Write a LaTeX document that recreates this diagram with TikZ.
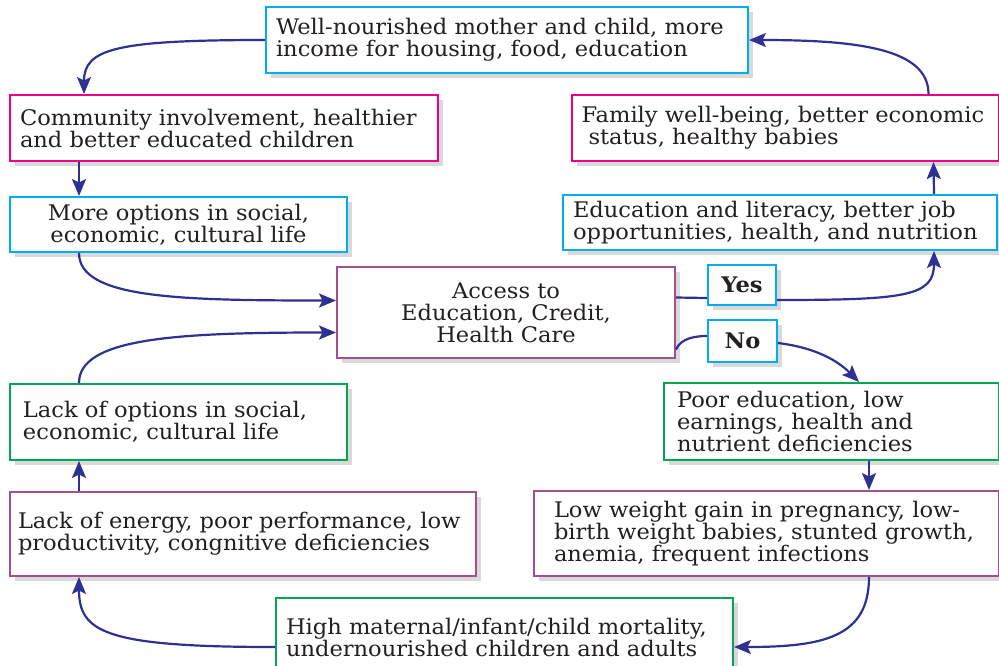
\documentclass[tikz,border=0pt]{standalone}
\usepackage{fontspec}
\setmainfont{DejaVu Serif}[FakeStretch=1.05]
\usetikzlibrary{arrows.meta,shadows}

\definecolor{boxcyan}{RGB}{0,174,239}
\definecolor{boxmagenta}{RGB}{236,0,140}
\definecolor{boxpurple}{RGB}{166,78,148}
\definecolor{boxgreen}{RGB}{0,166,81}
\definecolor{arrnavy}{RGB}{46,49,146}
\definecolor{textgrey}{RGB}{35,31,32}

\begin{document}
\begin{tikzpicture}[x=1pt, y=-1pt,
  box/.style={draw, line width=2pt, fill=white, text=textgrey, align=left, inner xsep=10pt, inner ysep=0pt,
    font=\fontsize{21.5pt}{22pt}\selectfont,
    drop shadow={shadow xshift=5pt, shadow yshift=-5pt, fill=black!15, opacity=1}},
  pile/.style={line width=2.2pt, draw=arrnavy, -{Stealth[length=17pt,width=14pt,inset=3.5pt]}},
  link/.style={line width=2.2pt, draw=arrnavy}]

	\useasboundingbox (0,0) rectangle (999,665);

	% Boxes
	\node[box, draw=boxcyan, text width=462pt, minimum height=66pt] (wellnour) at (507,40)
		{Well-nourished mother and child, more\\income for housing, food, education};
	\node[box, draw=boxmagenta, text width=408pt, minimum height=66pt] (community) at (224,128)
		{Community involvement, healthier\\and better educated children};
	\node[box, draw=boxcyan, align=center, text width=317pt, minimum height=55pt] (moreopt) at (178.5,224.5)
		{More options in social,\\economic, cultural life};
	\node[box, draw=boxpurple, align=center, text width=318pt, minimum height=91pt] (access) at (506,312.5)
		{Access to\\Education, Credit,\\Health Care};
	\node[box, draw=boxcyan, align=center, minimum width=68pt, minimum height=40pt] (yes) at (742,285)
		{\textbf{Yes}};
	\node[box, draw=boxcyan, align=center, minimum width=69pt, minimum height=42pt] (no) at (742.5,341)
		{\textbf{No}};
	\node[box, draw=boxmagenta, text width=407pt, minimum height=66pt] (family) at (785,128)
		{Family well-being, better economic\\\hspace{7pt}status, healthy babies};
	\node[box, draw=boxcyan, text width=414pt, minimum height=55pt] (edulit) at (780,222.5)
		{Education and literacy, better job\\opportunities, health, and nutrition};
	\node[box, draw=boxgreen, inner xsep=13pt, text width=311pt, minimum height=76pt] (lackopt) at (178.5,422)
		{Lack of options in social,\\economic, cultural life};
	\node[box, draw=boxpurple, inner xsep=8pt, text width=450pt, minimum height=84pt] (lackenergy) at (243,534)
		{Lack of energy, poor performance, low\\productivity, congnitive deficiencies};
	\node[box, draw=boxgreen, inner xsep=13pt, text width=309pt, minimum height=77pt] (pooredu) at (831.5,421.5)
		{Poor education, low\\earnings, health and\\nutrient deficiencies};
	\node[box, draw=boxpurple, inner xsep=20pt, text width=425pt, minimum height=85pt] (lowweight) at (766.5,533.5)
		{Low weight gain in pregnancy, low-\\birth weight babies, stunted growth,\\anemia, frequent infections};
	\node[box, draw=boxgreen, text width=437pt, minimum height=78pt] (highmat) at (504.5,637)
		{High maternal/infant/child mortality,\\undernourished children and adults};

	% Left side
	\draw[pile] (wellnour.west) .. controls +(-150,0) and +(0,-45) .. ([xshift=75pt]community.north west);
	\draw[pile] ([xshift=70pt]community.south west) -- ([xshift=70pt]moreopt.north west);
	\draw[pile] ([xshift=70pt]moreopt.south west) .. controls +(0,45) and +(-160,0) .. ([yshift=12pt]access.west);
	\draw[pile] ([xshift=70pt]lackopt.north west) .. controls +(0,-45) and +(-160,0) .. ([yshift=-20pt]access.west);
	\draw[pile] ([xshift=70pt]lackenergy.north west) -- ([xshift=70pt]lackopt.south west);
	\draw[pile] ([yshift=-10pt]highmat.west) .. controls +(-170,0) and +(0,55) .. ([xshift=70pt]lackenergy.south west);

	% Right side
	\draw[pile] ([xshift=336pt]lowweight.south west) .. controls +(0,60) and +(90,0) .. ([yshift=-10pt]highmat.east);
	\draw[pile] ([xshift=206pt]pooredu.south west) -- ([xshift=336pt]lowweight.north west);
	\draw[link] ([yshift=15pt]access.east) -- ([yshift=-13pt]yes.west);
	\draw[pile] ([yshift=-15pt]yes.east) .. controls +(130,0) and +(0,45) .. ([xshift=372pt]edulit.south west);
	\draw[link] ([yshift=-37pt]access.east) .. controls +(5,-12) and +(-10,0) .. ([yshift=5pt]no.west);
	\draw[pile] ([yshift=-2pt]no.east) .. controls +(40,5) and +(-20,-20) .. ([xshift=196pt]pooredu.north west);
	\draw[pile] ([xshift=372pt]edulit.north west) -- ([xshift=363pt]family.south west);
	\draw[pile] ([xshift=358pt]family.north west) .. controls +(0,-45) and +(110,0) .. (wellnour.east);

\end{tikzpicture}
\end{document}
